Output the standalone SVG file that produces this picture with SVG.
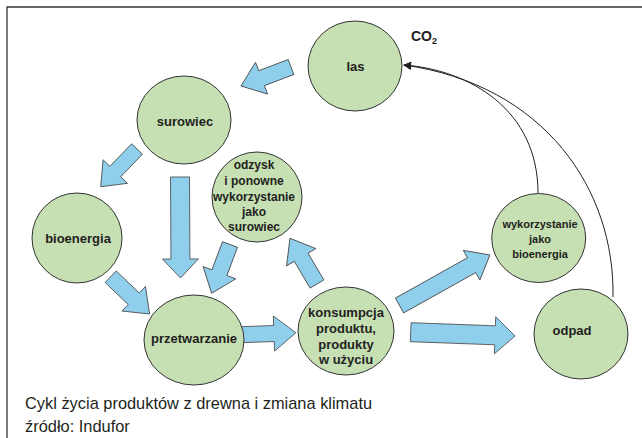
<svg xmlns="http://www.w3.org/2000/svg" width="642" height="438" viewBox="0 0 642 438">
<defs>
<style>
.node{fill:#c6e0b4;stroke:#333;stroke-width:1}
.lbl{font-family:"Liberation Sans",Arial,sans-serif;font-weight:bold;font-size:13px;fill:#231f20;text-anchor:middle}
.sm{font-size:12px}
.xs{font-size:11px}
.blk{fill:#8fcfec;stroke:#444;stroke-width:0.8;stroke-linejoin:miter}
.cur{fill:none;stroke:#231f20;stroke-width:1}
.cap{font-family:"Liberation Sans",Arial,sans-serif;font-size:16.4px;fill:#231f20}
</style>
<marker id="ah" viewBox="0 0 10 10" refX="9" refY="5" markerWidth="8" markerHeight="8" markerUnits="userSpaceOnUse" orient="auto">
<path d="M0,0 L10,5 L0,10 z" fill="#231f20"/>
</marker>
</defs>
<rect width="642" height="438" fill="#fff"/>
<path d="M7,438 V7 H642" fill="none" stroke="#333" stroke-width="1.3"/>

<g id="connectors">
<path class="cur" d="M538,193 C538,110 470,70 404,65" marker-end="url(#ah)"/>
<path class="cur" d="M613,297 C615,190 545,85 404,65" marker-end="url(#ah)"/>
<polygon class="blk" transform="translate(291,67) rotate(159.2)" points="0,-8 31.5,-8 31.5,-17 53.5,0 31.5,17 31.5,8 0,8"/>
<polygon class="blk" transform="translate(137,149) rotate(133.9)" points="0,-7.5 31.3,-7.5 31.3,-17 52.3,0 31.3,17 31.3,7.5 0,7.5"/>
<polygon class="blk" transform="translate(180,177) rotate(89.7)" points="0,-9.5 82,-9.5 82,-18 101,0 82,18 82,9.5 0,9.5"/>
<polygon class="blk" transform="translate(230,244.5) rotate(110.6)" points="0,-8 30.1,-8 30.1,-17.5 52.1,0 30.1,17.5 30.1,8 0,8"/>
<polygon class="blk" transform="translate(110.7,276.7) rotate(43.8)" points="0,-8 31.9,-8 31.9,-17 53.9,0 31.9,17 31.9,8 0,8"/>
<polygon class="blk" transform="translate(241.7,334.7) rotate(-2.1)" points="0,-8 32.3,-8 32.3,-17.5 54.3,0 32.3,17.5 32.3,8 0,8"/>
<polygon class="blk" transform="translate(317,284) rotate(-120.6)" points="0,-8 31.1,-8 31.1,-17 53.1,0 31.1,17 31.1,8 0,8"/>
<polygon class="blk" transform="translate(399.5,305.5) rotate(-29.2)" points="0,-8.5 82.6,-8.5 82.6,-17 103.6,0 82.6,17 82.6,8.5 0,8.5"/>
<polygon class="blk" transform="translate(410.7,332.2) rotate(2.1)" points="0,-9.5 84.4,-9.5 84.4,-18.5 104.4,0 84.4,18.5 84.4,9.5 0,9.5"/>
</g>

<g id="las">
<ellipse class="node" cx="355" cy="66" rx="47" ry="45"/>
<text class="lbl" x="355.5" y="71">las</text>
</g>
<g id="co2">
<text class="lbl" x="411" y="41" style="text-anchor:start;font-size:14px">CO<tspan font-size="9" dy="3">2</tspan></text>
</g>
<g id="surowiec">
<ellipse class="node" cx="184" cy="120" rx="47" ry="44"/>
<text class="lbl" x="185" y="126">surowiec</text>
</g>
<g id="odzysk">
<ellipse class="node" cx="257" cy="197" rx="45" ry="45"/>
<text class="lbl sm" x="254" y="169">odzysk</text>
<text class="lbl sm" x="254" y="185">i ponowne</text>
<text class="lbl sm" x="254" y="200.5">wykorzystanie</text>
<text class="lbl sm" x="254" y="215.5">jako</text>
<text class="lbl sm" x="254" y="231">surowiec</text>
</g>
<g id="bioenergia">
<ellipse class="node" cx="77" cy="238" rx="45" ry="45"/>
<text class="lbl" x="78" y="243">bioenergia</text>
</g>
<g id="przetwarzanie">
<ellipse class="node" cx="194" cy="340" rx="50" ry="45"/>
<text class="lbl" x="194" y="343">przetwarzanie</text>
</g>
<g id="konsumpcja">
<ellipse class="node" cx="346" cy="331" rx="48" ry="44"/>
<text class="lbl" x="346" y="317">konsumpcja</text>
<text class="lbl" x="346" y="333">produktu,</text>
<text class="lbl" x="346" y="349">produkty</text>
<text class="lbl" x="346" y="364">w użyciu</text>
</g>
<g id="wykorzystanie">
<ellipse class="node" cx="538.7" cy="238" rx="47" ry="44.5"/>
<text class="lbl xs" x="540" y="227.5">wykorzystanie</text>
<text class="lbl xs" x="540" y="243">jako</text>
<text class="lbl xs" x="540" y="258">bioenergia</text>
</g>
<g id="odpad">
<ellipse class="node" cx="581" cy="334" rx="47" ry="45"/>
<text class="lbl" x="572" y="335">odpad</text>
</g>

<text class="cap" x="25" y="409">Cykl życia produktów z drewna i zmiana klimatu</text>
<text class="cap" x="25" y="432">źródło: Indufor</text>
</svg>
